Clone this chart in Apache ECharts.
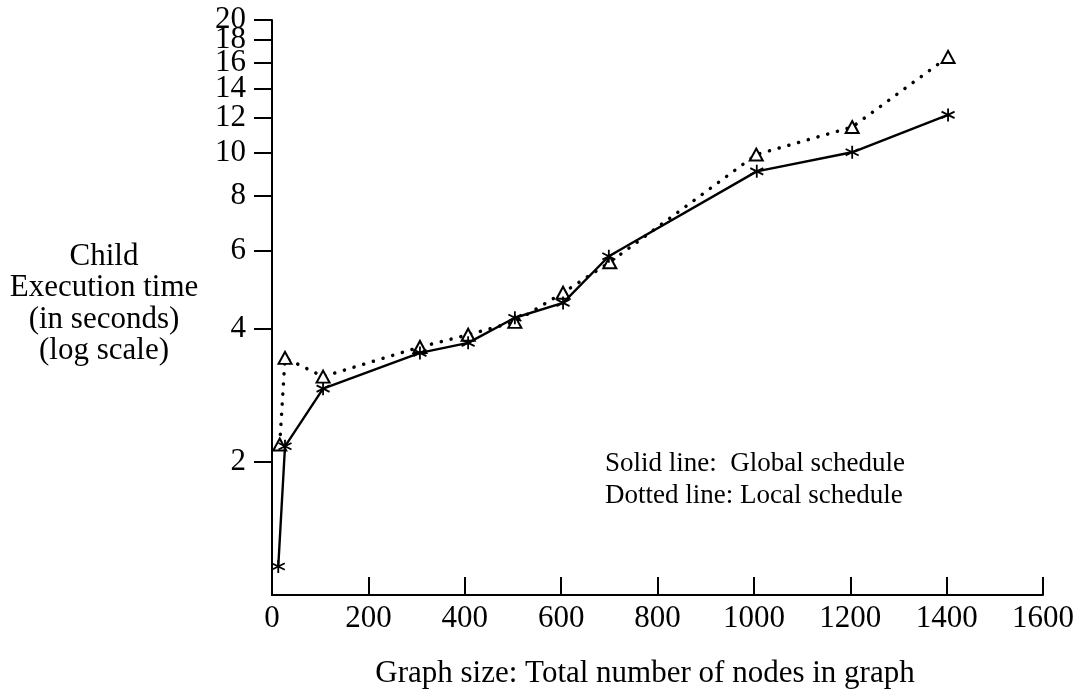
<!DOCTYPE html>
<html>
<head>
<meta charset="utf-8">
<script src="https://cdn.jsdelivr.net/npm/echarts@6/dist/echarts.min.js"></script>
<style>
html,body{margin:0;padding:0;background:#fff;}
#c{width:1079px;height:692px;}
</style>
</head>
<body>
<div id="c"></div>
<script>
// Graph size (x) and child execution time in seconds (y)
const globalX = [13, 27, 106, 307, 407, 504, 604, 699, 1006, 1204, 1403];
const globalY = [1.16, 2.17, 2.93, 3.53, 3.72, 4.24, 4.58, 5.84, 9.09, 10.04, 12.2];
const localX  = [16, 27, 106, 307, 407, 504, 604, 701, 1005, 1204, 1403];
const localY  = [2.19, 3.44, 3.12, 3.64, 3.88, 4.15, 4.83, 5.66, 9.92, 11.45, 16.5];
const yTickValues = [2, 4, 6, 8, 10, 12, 14, 16, 18, 20];
const xTickValues = [0, 200, 400, 600, 800, 1000, 1200, 1400, 1600];

const FONT = '"Liberation Serif", "Times New Roman", Times, serif';
const chart = echarts.init(document.getElementById('c'), null, {renderer: 'canvas'});

const asterisk = 'path://M0,-10L0,10M-8.66,-5L8.66,5M-8.66,5L8.66,-5';

const pairs = (xs, ys) => xs.map((x, i) => [x, ys[i]]);

// the tick labels are packed tightly; split them over two coincident axes so
// the library's min/max label-overlap pruning does not drop any of them
const yTicksA = yTickValues.filter((v, i) => i % 2 === 0);
const yTicksB = yTickValues.filter((v, i) => i % 2 === 1);

function makeYAxis(ticks, showLine) {
  return {
    type: 'log', logBase: 10, min: 1, max: 20, position: 'left', offset: 0,
    axisLine: {show: showLine, onZero: false, lineStyle: {color: '#000', width: 2}},
    axisTick: {show: true, inside: false, length: 18, lineStyle: {color: '#000', width: 2}, customValues: ticks},
    axisLabel: {color: '#000', fontFamily: FONT, fontSize: 31, margin: 26, customValues: ticks,
      hideOverlap: false, formatter: v => String(Math.round(v))},
    splitLine: {show: false},
    minorTick: {show: false}
  };
}

chart.setOption({
  animation: false,
  backgroundColor: '#fff',
  grid: {left: 272, right: 36, top: 20, bottom: 97, containLabel: false},
  xAxis: {
    type: 'value', min: 0, max: 1600, interval: 200,
    axisLine: {show: true, onZero: false, lineStyle: {color: '#000', width: 2}},
    axisTick: {show: true, inside: true, length: 18, lineStyle: {color: '#000', width: 2}, customValues: xTickValues},
    axisLabel: {color: '#000', fontFamily: FONT, fontSize: 31, margin: 8, customValues: xTickValues,
      showMinLabel: true, showMaxLabel: true, hideOverlap: false,
      formatter: v => String(Math.round(v))},
    splitLine: {show: false}
  },
  yAxis: [makeYAxis(yTicksA, true), makeYAxis(yTicksB, false)],
  series: [
    {
      name: 'Global schedule', type: 'line', yAxisIndex: 0,
      data: pairs(globalX, globalY),
      symbol: asterisk, symbolSize: 13, showSymbol: true,
      itemStyle: {color: '#000', borderColor: '#000', borderWidth: 1.8},
      lineStyle: {color: '#000', width: 2.4},
      z: 3
    },
    {
      name: 'Local schedule', type: 'line', yAxisIndex: 0,
      data: pairs(localX, localY),
      symbol: 'triangle', symbolSize: [13, 12], showSymbol: true,
      itemStyle: {color: '#fff', borderColor: '#000', borderWidth: 2},
      lineStyle: {color: '#000', width: 3.5, type: [0.1, 10], cap: 'round'},
      z: 2
    }
  ],
  graphic: [
    {type: 'text', x: 104, y: 304, style: {
      text: 'Child\nExecution time\n(in seconds)\n(log scale)',
      font: '31px ' + FONT, fill: '#000', textAlign: 'center', textVerticalAlign: 'middle', lineHeight: 31.5}},
    {type: 'text', x: 645, y: 674, style: {
      text: 'Graph size: Total number of nodes in graph',
      font: '31px ' + FONT, fill: '#000', textAlign: 'center', textVerticalAlign: 'middle'}},
    {type: 'text', x: 605, y: 464, style: {
      text: 'Solid line:  Global schedule',
      font: '27px ' + FONT, fill: '#000', textAlign: 'left', textVerticalAlign: 'middle'}},
    {type: 'text', x: 605, y: 496, style: {
      text: 'Dotted line: Local schedule',
      font: '27px ' + FONT, fill: '#000', textAlign: 'left', textVerticalAlign: 'middle'}}
  ]
});
</script>
</body>
</html>
